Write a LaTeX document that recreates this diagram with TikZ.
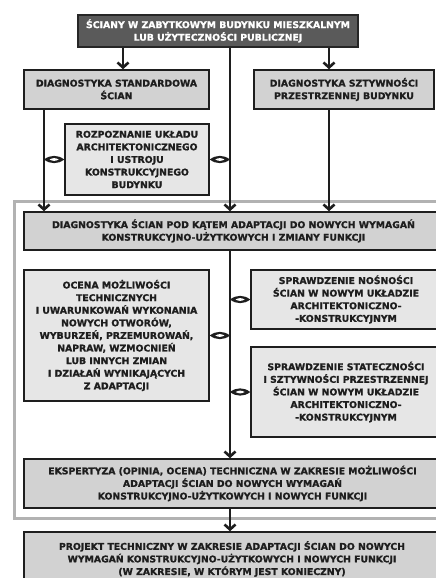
\documentclass[tikz,border=0pt]{standalone}
\usepackage{fontspec}
\setmainfont{DejaVu Sans}[BoldFont={DejaVu Sans Bold},BoldFeatures={FakeBold=1.2}]
\usetikzlibrary{arrows.meta,calc}
\definecolor{boxdark}{HTML}{5A5A5A}
\definecolor{boxmid}{HTML}{D2D2D2}
\definecolor{boxlight}{HTML}{E6E6E6}
\definecolor{framegray}{HTML}{B2B2B2}
\definecolor{inkline}{HTML}{1E1E1E}
% two-way link: black lens between #1 and #2 with a white slit inside
\newcommand{\lenslink}[2]{%
  \fill[inkline] (#1) to[bend left=38] (#2) to[bend left=38] (#1);
  \fill[white] ($(#1)!0.28!(#2)$) to[bend left=32] ($(#1)!0.72!(#2)$)
                                  to[bend left=32] ($(#1)!0.28!(#2)$);
}
\begin{document}
\begin{tikzpicture}[x=1pt,y=-1pt,
  box/.style={draw=inkline, line width=1.5pt, fill=boxlight, align=center,
    inner sep=0pt, text=inkline,
    font=\bfseries\fontsize{9.3}{12.6}\selectfont},
  midbox/.style={box, fill=boxmid},
  darkbox/.style={box, fill=boxdark, text=white, draw=black!85},
  link/.style={draw=inkline, line width=2.8pt},
  arr/.style={link, -{Straight Barb[length=5pt,width=11pt,line width=2.6pt]}},
]
\useasboundingbox (0,0) rectangle (436,578);
\clip (0,0) rectangle (436,578);

% outer frame around the adaptation stage
\draw[framegray, line width=3pt] (14,201) rectangle (460,518);

% vertical rails
\coordinate (cL) at (44,0);
\coordinate (cA) at (123,0);
\coordinate (cM) at (230,0);
\coordinate (cR) at (329,0);

% boxes
\node[darkbox, minimum width=280pt, minimum height=32pt] (top) at (218,31)
  {ŚCIANY W ZABYTKOWYM BUDYNKU MIESZKALNYM\\LUB UŻYTECZNOŚCI PUBLICZNEJ};
\node[midbox, minimum width=185pt, minimum height=39pt] (std) at (116.5,89.5)
  {DIAGNOSTYKA STANDARDOWA\\ŚCIAN};
\node[midbox, minimum width=180pt, minimum height=39pt] (szt) at (344,89.5)
  {DIAGNOSTYKA SZTYWNOŚCI\\PRZESTRZENNEJ BUDYNKU};
\node[box, minimum width=144pt, minimum height=71pt] (roz) at (137,159.5)
  {ROZPOZNANIE UKŁADU\\ARCHITEKTONICZNEGO\\I USTROJU\\KONSTRUKCYJNEGO\\BUDYNKU};
\node[midbox, minimum width=419pt, minimum height=38pt] (diag) at (233.5,231)
  {DIAGNOSTYKA ŚCIAN POD KĄTEM ADAPTACJI DO NOWYCH WYMAGAŃ\\KONSTRUKCYJNO-UŻYTKOWYCH I ZMIANY FUNKCJI};
\node[box, minimum width=185pt, minimum height=131pt] (ocena) at (116.5,335.5)
  {OCENA MOŻLIWOŚCI\\TECHNICZNYCH\\I UWARUNKOWAŃ WYKONANIA\\NOWYCH OTWORÓW,\\WYBURZEŃ, PRZEMUROWAŃ,\\NAPRAW, WZMOCNIEŃ\\LUB INNYCH ZMIAN\\I DZIAŁAŃ WYNIKAJĄCYCH\\Z ADAPTACJI};
\node[box, minimum width=190pt, minimum height=59pt] (nos) at (346,299.5)
  {SPRAWDZENIE NOŚNOŚCI\\ŚCIAN W NOWYM UKŁADZIE\\ARCHITEKTONICZNO-\\-KONSTRUKCYJNYM};
\node[box, minimum width=190pt, minimum height=90pt] (stat) at (346,392)
  {SPRAWDZENIE STATECZNOŚCI\\I SZTYWNOŚCI PRZESTRZENNEJ\\ŚCIAN W NOWYM UKŁADZIE\\ARCHITEKTONICZNO-\\-KONSTRUKCYJNYM};
\node[midbox, minimum width=417pt, minimum height=49pt] (eksp) at (232.5,483.5)
  {EKSPERTYZA (OPINIA, OCENA) TECHNICZNA W ZAKRESIE MOŻLIWOŚCI\\ADAPTACJI ŚCIAN DO NOWYCH WYMAGAŃ\\KONSTRUKCYJNO-UŻYTKOWYCH I NOWYCH FUNKCJI};
\node[midbox, minimum width=416pt, minimum height=54pt] (proj) at (232,559)
  {PROJEKT TECHNICZNY W ZAKRESIE ADAPTACJI ŚCIAN DO NOWYCH\\WYMAGAŃ KONSTRUKCYJNO-UŻYTKOWYCH I NOWYCH FUNKCJI\\(W ZAKRESIE, W KTÓRYM JEST KONIECZNY)};

% connectors from the top box
\draw[arr] (top.south -| cA) -- (std.north -| cA);
\draw[arr] (top.south -| cR) -- (szt.north -| cR);
\draw[arr] (top.south -| cM) -- (diag.north -| cM);
\draw[arr] (std.south -| cL) -- (diag.north -| cL);
\draw[arr] (szt.south -| cR) -- (diag.north -| cR);

% main spine through the adaptation stage
\draw[arr] (diag.south -| cM) -- (eksp.north -| cM);
\draw[arr] (eksp.south -| cM) -- (proj.north -| cM);

% two-way links between the rails and the side boxes
\lenslink{roz.west}{roz.west -| cL}
\lenslink{roz.east}{roz.east -| cM}
\lenslink{nos.west}{nos.west -| cM}
\lenslink{ocena.east}{ocena.east -| cM}
\lenslink{stat.west}{stat.west -| cM}
\end{tikzpicture}
\end{document}
